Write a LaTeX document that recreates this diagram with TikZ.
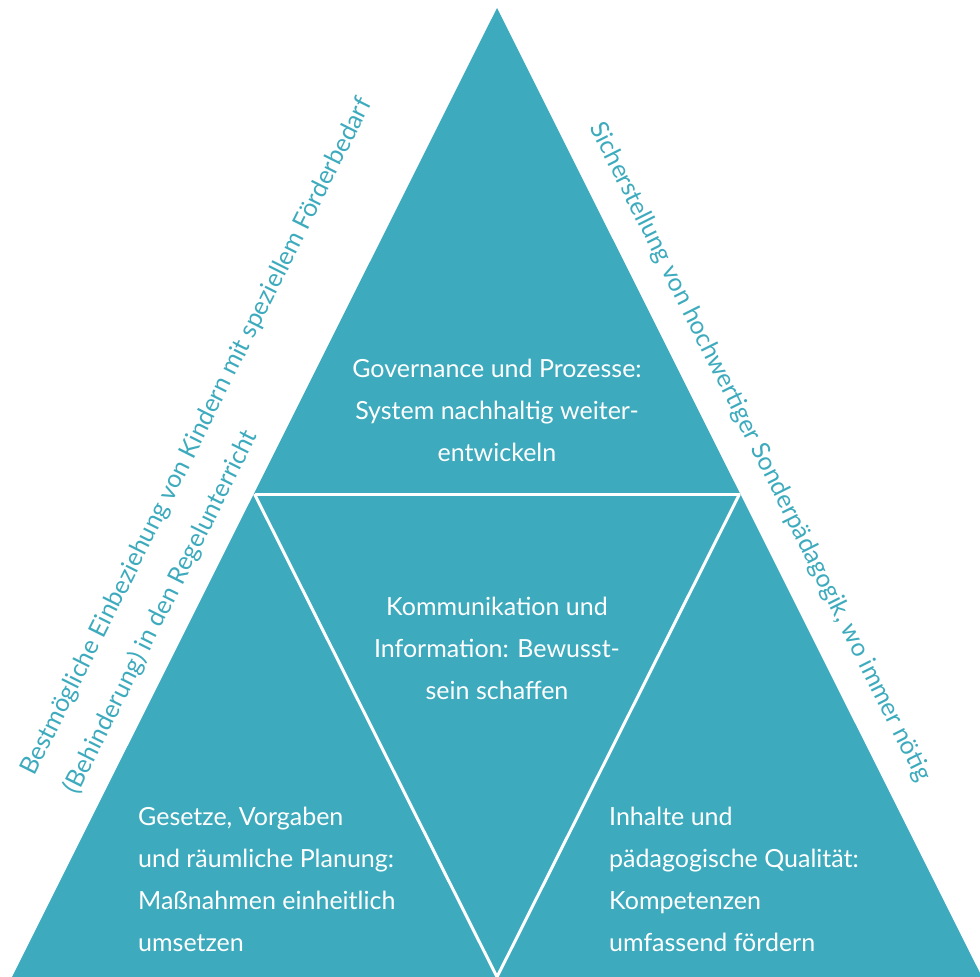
\documentclass[tikz,border=0pt]{standalone}
\usepackage{fontspec}
\setmainfont{Lato}
\definecolor{teal1}{RGB}{61,171,189}
\begin{document}
\begin{tikzpicture}[x=1pt,y=-1pt,
  box/.style={text=white,font=\fontsize{25}{42}\selectfont,inner sep=0pt},
  side/.style={text=teal1,font=\fontsize{25}{30}\selectfont,inner sep=0pt},
  sep/.style={draw=white,line width=3pt,line join=miter}]
\useasboundingbox (0,0) rectangle (980,977);
\clip (0,0) rectangle (980,977);
\coordinate (A) at (497,8);
\coordinate (BL) at (12,977);
\coordinate (BR) at (982,977);
\coordinate (ML) at (254.5,494);
\coordinate (MR) at (739.5,494);
\coordinate (MB) at (497,977);
\fill[teal1] (A) -- (BR) -- (BL) -- cycle;
\draw[sep] (ML) -- (MR);
\draw[sep] (ML) -- (MB) -- (MR);
\node[box,align=center] (top) at (497,410) {Governance und Prozesse:\\System nachhaltig weiter-\\entwickeln};
\node[box,align=center] (mid) at (497,648) {Kommunikation und\\Information: Bewusst-\\sein schaffen};
\node[box,align=left,anchor=west] (bl) at (138,879) {Gesetze, Vorgaben\\und räumliche Planung:\\Maßnahmen einheitlich\\umsetzen};
\node[box,align=left,anchor=west] (br) at (609,879) {Inhalte und\\pädagogische Qualität:\\Kompetenzen\\umfassend fördern};
\node[side,rotate=63.4] (l1) at (197,437) {Bestmögliche Einbeziehung von Kindern mit speziellem Förderbedarf};
\node[side,rotate=63.4] (l2) at (161,612) {(Behinderung) in den Regelunterricht};
\node[side,rotate=-63.4] (r1) at (760,452) {Sicherstellung von hochwertiger Sonderpädagogik, wo immer nötig};
\end{tikzpicture}
\end{document}
